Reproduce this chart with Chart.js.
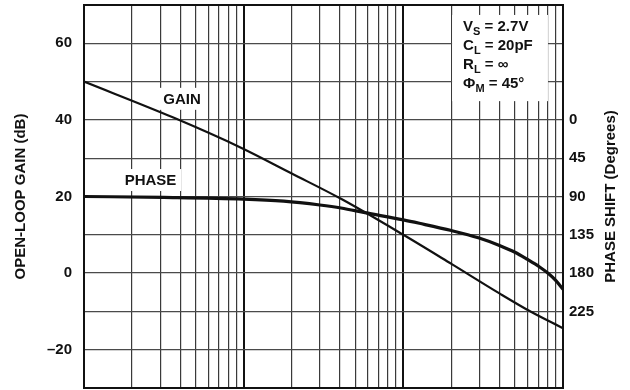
<!DOCTYPE html>
<html>
<head>
<meta charset="utf-8">
<script src="https://cdn.jsdelivr.net/npm/chart.js@4/dist/chart.umd.min.js"></script>
<style>
  html, body { margin: 0; padding: 0; background: #fff; }
  #wrap { width: 630px; height: 390px; position: relative; }
</style>
</head>
<body>
<div id="wrap"><canvas id="c"></canvas></div>
<script>
// Open-loop gain (dB) versus frequency (Hz)
const gainFreq = [1000, 3630, 9550, 20000, 40700, 100000, 200000, 400000, 630000, 1000000];
const gainDb   = [50.0, 40.6, 32.8, 26.0, 19.4, 10.0, 2.4, -5.3, -10.1, -14.4];

// Phase shift (degrees) versus frequency (Hz)
const phaseFreq = [1000, 3160, 10000, 17800, 30000, 40700, 57500, 100000, 126000, 200000, 295000, 400000, 500000, 600000, 710000, 810000, 900000, 1000000];
const phaseDeg  = [90, 91, 93, 95.5, 100, 103.5, 109, 117.5, 121.5, 130, 138.5, 147.5, 155.5, 164, 172.5, 180.5, 188.5, 199];

// Labelled ticks and decade lines
const gainTickLabels  = [-20, 0, 20, 40, 60];
const phaseTickLabels = [0, 45, 90, 135, 180, 225];
const decades = [1000, 10000, 100000, 1000000];

// Test conditions shown in the box
const conditions = [
  ['V', 'S', ' = 2.7V'],
  ['C', 'L', ' = 20pF'],
  ['R', 'L', ' = \u221E'],
  ['\u03A6', 'M', ' = 45\u00B0']
];

const FONT = '"Liberation Sans", Arial, Helvetica, sans-serif';
const INK = '#111';

const pts = (xs, ys) => xs.map((x, i) => ({ x: x, y: ys[i] }));

function fmtNeg(v) { return v < 0 ? '\u2013' + Math.abs(v) : String(v); }

// keep the plot box tight: no extra room for end labels
function noPad(scale) {
  scale.paddingTop = 0;
  scale.paddingBottom = 0;
  scale.paddingLeft = 0;
  scale.paddingRight = 0;
}

const overlayPlugin = {
  id: 'overlays',
  beforeDatasetsDraw(chart) {
    const { ctx, scales } = chart;
    const x = scales.x, y = scales.y;
    ctx.save();
    // curve labels, on white patches
    const labels = [
      { text: 'GAIN', f: 4110, v: 45.5 },
      { text: 'PHASE', f: 2610, v: 24.3 }
    ];
    ctx.font = 'bold 15px ' + FONT;
    labels.forEach(l => {
      const cx = x.getPixelForValue(l.f), cy = y.getPixelForValue(l.v);
      const w = ctx.measureText(l.text).width;
      ctx.fillStyle = '#fff';
      ctx.fillRect(cx - w / 2 - 5, cy - 11, w + 10, 22);
      ctx.fillStyle = INK;
      ctx.textAlign = 'center';
      ctx.textBaseline = 'middle';
      ctx.fillText(l.text, cx, cy + 1);
    });
    // conditions box
    const bx0 = x.getPixelForValue(202000), bx1 = x.getPixelForValue(805000);
    const by0 = y.getPixelForValue(67.4), by1 = y.getPixelForValue(44.9);
    ctx.fillStyle = '#fff';
    ctx.fillRect(bx0, by0, bx1 - bx0, by1 - by0);
    ctx.fillStyle = INK;
    ctx.textAlign = 'left';
    ctx.textBaseline = 'alphabetic';
    conditions.forEach((c, i) => {
      let tx = bx0 + 11;
      const ty = by0 + 16 + i * 19;
      ctx.font = 'bold 15px ' + FONT;
      ctx.fillText(c[0], tx, ty);
      tx += ctx.measureText(c[0]).width;
      ctx.font = 'bold 11px ' + FONT;
      ctx.fillText(c[1], tx, ty + 4);
      tx += ctx.measureText(c[1]).width;
      ctx.font = 'bold 15px ' + FONT;
      ctx.fillText(c[2], tx, ty);
    });
    ctx.restore();
  },
  afterDraw(chart) {
    const { ctx, chartArea: a } = chart;
    ctx.save();
    ctx.strokeStyle = INK;
    ctx.lineWidth = 2;
    ctx.strokeRect(a.left, a.top, a.right - a.left, a.bottom - a.top);
    // right axis title, reading bottom to top
    ctx.translate(611, (a.top + a.bottom) / 2);
    ctx.rotate(-Math.PI / 2);
    ctx.font = 'bold 15px ' + FONT;
    ctx.fillStyle = INK;
    ctx.textAlign = 'center';
    ctx.textBaseline = 'middle';
    ctx.fillText('PHASE SHIFT (Degrees)', 0, 0);
    ctx.restore();
  }
};

new Chart(document.getElementById('c'), {
  type: 'line',
  data: {
    datasets: [
      {
        label: 'GAIN',
        data: pts(gainFreq, gainDb),
        yAxisID: 'y',
        borderColor: INK,
        borderWidth: 2.2,
        pointRadius: 0,
        cubicInterpolationMode: 'monotone'
      },
      {
        label: 'PHASE',
        data: pts(phaseFreq, phaseDeg),
        yAxisID: 'yP',
        borderColor: INK,
        borderWidth: 3.2,
        pointRadius: 0,
        cubicInterpolationMode: 'monotone'
      }
    ]
  },
  options: {
    responsive: true,
    maintainAspectRatio: false,
    animation: false,
    layout: { padding: { top: 5, bottom: 2, left: 0, right: 0 } },
    plugins: { legend: { display: false }, tooltip: { enabled: false } },
    scales: {
      x: {
        type: 'logarithmic',
        min: 1000,
        max: 1000000,
        afterBuildTicks(scale) {
          const t = [];
          for (let d = 0; d < decades.length - 1; d++) {
            for (let k = 1; k < 10; k++) t.push({ value: decades[d] * k });
          }
          t.push({ value: decades[decades.length - 1] });
          scale.ticks = t;
        },
        afterFit(scale) { scale.height = 0; noPad(scale); },
        ticks: { display: false, autoSkip: false },
        border: { display: false },
        grid: {
          drawTicks: false,
          color: ctx => decades.includes(ctx.tick && ctx.tick.value) ? '#111' : '#3a3a3a',
          lineWidth: ctx => decades.includes(ctx.tick && ctx.tick.value) ? 2 : 1.2
        }
      },
      y: {
        position: 'left',
        min: -30,
        max: 70,
        afterFit(scale) { scale.width = 84; noPad(scale); },
        ticks: {
          stepSize: 10,
          padding: 12,
          color: INK,
          font: { family: FONT, size: 15, weight: 'bold' },
          callback: v => gainTickLabels.includes(v) ? fmtNeg(v) : ''
        },
        border: { display: false },
        grid: { drawTicks: false, color: '#4a4a4a', lineWidth: 1.2 },
        title: {
          display: true,
          text: 'OPEN-LOOP GAIN (dB)',
          color: INK,
          font: { family: FONT, size: 15, weight: 'bold' },
          padding: { top: 12, bottom: 0 }
        }
      },
      yP: {
        position: 'right',
        reverse: true,
        min: -135,
        max: 315,
        afterFit(scale) { scale.width = 67; noPad(scale); },
        ticks: {
          stepSize: 45,
          padding: 6,
          color: INK,
          font: { family: FONT, size: 15, weight: 'bold' },
          callback: v => phaseTickLabels.includes(v) ? String(v) : ''
        },
        border: { display: false },
        grid: { display: false, drawTicks: false }
      }
    }
  },
  plugins: [overlayPlugin]
});
</script>
</body>
</html>
